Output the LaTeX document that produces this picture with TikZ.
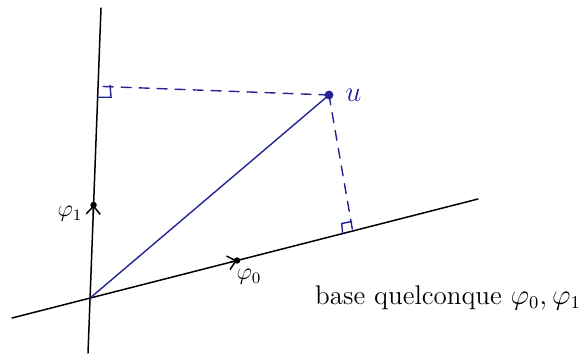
\documentclass[tikz,border=0pt]{standalone}
\usetikzlibrary{arrows.meta, calc}
\definecolor{encre}{RGB}{35,35,150}

\begin{document}
\begin{tikzpicture}[x=0.5pt, y=-0.5pt, >={Straight Barb[length=4pt, width=7pt]}, line cap=round,
    axe/.style={black, line width=0.75pt},
    proj/.style={encre, line width=0.7pt, dash pattern=on 5pt off 4pt},
    every node/.style={inner sep=1pt}]
    \useasboundingbox (0,0) rectangle (582,353);

    % Axes de la base
    \coordinate (A1) at (101,8);
    \coordinate (B1) at (88,353);
    \coordinate (A0) at (12,318);
    \coordinate (B0) at (478,199);
    \coordinate (O) at (intersection of A1--B1 and A0--B0);
    \draw[axe] (A1) -- (B1);
    \draw[axe] (A0) -- (B0);

    % Vecteurs phi_0, phi_1 (seule la pointe est visible sur l'axe)
    \coordinate (P1) at ($(A1)!0.571!(B1)$);
    \coordinate (P0) at ($(A0)!0.483!(B0)$);
    \draw[->, axe] ($(O)!0.9!(P1)$) -- (P1);
    \draw[->, axe] ($(O)!0.95!(P0)$) -- (P0);
    \fill (P1) circle (1.6pt);
    \fill (P0) circle (1.6pt);
    \node (lp1) at (70,214) {\large $\varphi_1$};
    \node (lp0) at (249,277) {\large $\varphi_0$};

    % Vecteur u
    \coordinate (u) at (329,95);
    \draw[encre, line width=0.7pt] (O) -- (u);
    \fill[encre] (u) circle (2.2pt);
    \node[encre, right=7pt] (lu) at (u) {\Large $u$};

    % Projections
    \coordinate (H1) at ($(A1)!(u)!(B1)$);
    \coordinate (H0) at ($(A0)!0.731!(B0)$);
    \draw[proj] (u) -- (H1);
    \draw[proj] (u) -- (H0);
    \draw[encre, line width=0.7pt] ($(H1)+(12,-1)$) -- ++(1,12) -- ++(-13,0);
    \draw[encre, line width=0.7pt] ($(H0)+(-10,2.5)$) -- ++(-1,-10) -- ++(10,-2);

    \node (titre) at (448,298) {\fontsize{13.5}{16}\selectfont base quelconque $\varphi_0, \varphi_1$};
\end{tikzpicture}
\end{document}
